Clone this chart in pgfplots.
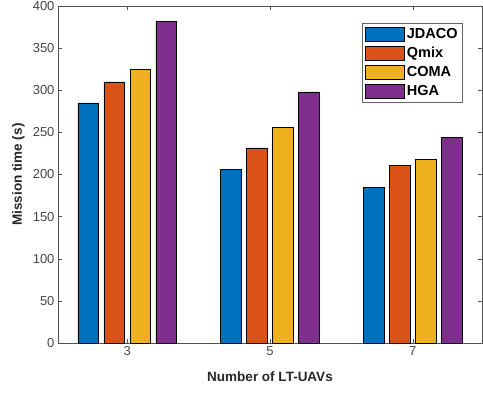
\documentclass[border=0pt]{standalone}
\usepackage{fontspec}
\setmainfont{Liberation Sans}
\usepackage{pgfplots}
\pgfplotsset{compat=1.18}
\definecolor{c1}{rgb}{0,0.447,0.741}
\definecolor{c2}{rgb}{0.85,0.325,0.098}
\definecolor{c3}{rgb}{0.929,0.694,0.125}
\definecolor{c4}{rgb}{0.494,0.184,0.556}
\definecolor{axgray}{rgb}{0.15,0.15,0.15}
\pgfplotsset{mybar/.style={fill=#1, draw=black, line width=0.6pt,
  legend image code/.code={\draw[fill=#1, draw=black, line width=0.6pt] (0pt,-7pt) rectangle (39pt,7pt);}}}
\begin{document}
\begin{tikzpicture}
\begin{axis}[
  scale only axis,
  width=424pt, height=337pt,
  xmin=2.03, xmax=7.97,
  ymin=0, ymax=400,
  ybar=5.3pt, bar width=20.7pt,
  xtick={3,5,7},
  ytick={0,50,...,400},
  tick align=inside,
  tick pos=both,
  major tick length=4pt,
  axis line style={axgray!80},
  every tick/.style={axgray!80},
  tick label style={font=\fontsize{13}{15}\selectfont, text=axgray!85},
  /pgf/number format/assume math mode=true,
  xlabel={\textbf{Number of LT-UAVs}},
  ylabel={\textbf{Mission time (s)}},
  label style={font=\fontsize{13.5}{15}\selectfont, text=axgray},
  xlabel style={at={(axis description cs:0.5,-0.1)}, anchor=center},
  ylabel style={at={(axis description cs:-0.0932,0.5)}, anchor=center, rotate=0},
  legend style={at={(axis description cs:0.955,0.95)}, anchor=north east,
    draw=black!60, line width=0.6pt, font=\fontsize{14.5}{17}\selectfont\bfseries,
    row sep=3.3pt, inner sep=3pt, cells={anchor=west}},
]
\addplot[mybar=c1] coordinates {(3,285) (5,206) (7,185)};
\addplot[mybar=c2] coordinates {(3,310) (5,231.5) (7,210.5)};
\addplot[mybar=c3] coordinates {(3,325) (5,256) (7,217.5)};
\addplot[mybar=c4] coordinates {(3,382) (5,298) (7,244.5)};
\legend{JDACO,Qmix,COMA,HGA}
\end{axis}
\pgfresetboundingbox
\path (-58pt,-49pt) rectangle (425pt,343pt);
\end{tikzpicture}
\end{document}
